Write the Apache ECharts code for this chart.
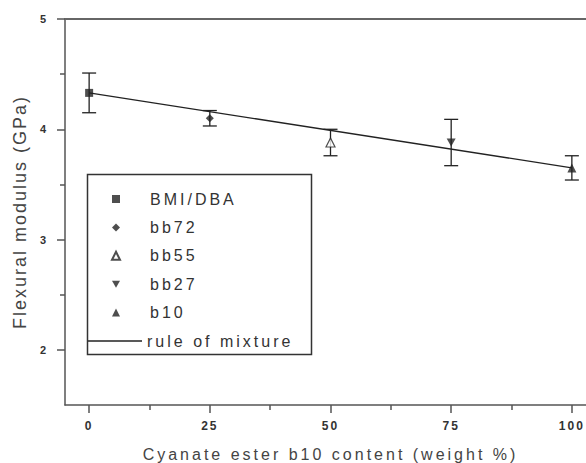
<!DOCTYPE html>
<html>
<head>
<meta charset="utf-8">
<script src="https://cdn.jsdelivr.net/npm/echarts@6/dist/echarts.min.js"></script>
<style>
  html, body { margin: 0; padding: 0; background: #fff; }
  #chart { width: 586px; height: 463px; }
  /* widen the tracking of the chart texts, keyed on their font size */
  #chart text[style*="16px"] { letter-spacing: 3px; }
  #chart text[style*="18px"] { letter-spacing: 2px; }
  #chart text[style*="12px"] { letter-spacing: 2px; }
  #chart text[style*="11px"] { letter-spacing: 1px; }
</style>
</head>
<body>
<div id="chart"></div>
<script>
// Cyanate ester b10 content (weight %) of each blend
const contentPct = [0, 25, 50, 75, 100];
const sampleNames = ['BMI/DBA', 'bb72', 'bb55', 'bb27', 'b10'];
// Flexural modulus (GPa): mean and standard deviation
const modulusMean = [4.33, 4.10, 3.88, 3.88, 3.65];
const modulusErr = [0.18, 0.07, 0.12, 0.21, 0.11];
// rule of mixture between the two neat resins
const mixtureName = 'rule of mixture';
const mixtureX = [0, 100];
const mixtureY = [4.33, 3.65];
// axis ticks
const xMajorTicks = [0, 25, 50, 75, 100];
const xMinorTicks = [12.5, 37.5, 62.5, 87.5];
const yMajorTicks = [2, 3, 4, 5];
const yMinorTicks = [2.5, 3.5, 4.5];

const INK = '#222';
const AXIS = '#555';
const FONT = '"Liberation Sans", Arial, sans-serif';
const DOWN_TRIANGLE = 'path://M0,0 L20,0 L10,17.3 Z';

const markerStyles = [
  { symbol: 'rect', symbolSize: 8, itemStyle: { color: INK } },
  { symbol: 'diamond', symbolSize: 8, itemStyle: { color: INK } },
  { symbol: 'triangle', symbolSize: 9, itemStyle: { color: '#fff', borderColor: INK, borderWidth: 1.2 } },
  { symbol: DOWN_TRIANGLE, symbolSize: [9, 8], itemStyle: { color: INK } },
  { symbol: 'triangle', symbolSize: 9, itemStyle: { color: INK } }
];

const errorData = contentPct.map((x, i) => [x, modulusMean[i] - modulusErr[i], modulusMean[i] + modulusErr[i]]);

const scatterSeries = sampleNames.map((name, i) => ({
  name: name,
  type: 'scatter',
  xAxisIndex: 0,
  yAxisIndex: 0,
  symbol: markerStyles[i].symbol,
  symbolSize: markerStyles[i].symbolSize,
  itemStyle: markerStyles[i].itemStyle,
  z: 5,
  data: [[contentPct[i], modulusMean[i]]]
}));

const chart = echarts.init(document.getElementById('chart'), null, { renderer: 'svg' });

const tickLabelStyle = { color: '#333', fontFamily: FONT, fontWeight: 'bold' };
const legendText = { fontSize: 16, lineHeight: 16, color: '#333', fontFamily: FONT };

chart.setOption({
  animation: false,
  backgroundColor: '#fff',
  grid: { left: 65, top: 19, width: 531, height: 386, outerBoundsMode: 'none', containLabel: false },
  xAxis: [
    {
      type: 'value', min: -5, max: 105, position: 'bottom',
      axisLine: { show: true, onZero: false, lineStyle: { color: AXIS, width: 1.5 } },
      axisTick: { show: true, customValues: xMajorTicks, length: 8, lineStyle: { color: AXIS, width: 1.5 } },
      axisLabel: Object.assign({ customValues: xMajorTicks, margin: 15, fontSize: 12 }, tickLabelStyle),
      splitLine: { show: false },
      name: 'Cyanate ester b10 content (weight %)',
      nameLocation: 'middle', nameGap: 41,
      nameTextStyle: { fontSize: 16, color: '#444', fontFamily: FONT }
    },
    {
      type: 'value', min: -5, max: 105, position: 'bottom',
      axisLine: { show: false, onZero: false },
      axisTick: { show: true, customValues: xMinorTicks, length: 5, lineStyle: { color: AXIS, width: 1.5 } },
      axisLabel: { show: false, customValues: xMinorTicks },
      splitLine: { show: false }
    },
    {
      type: 'value', min: -5, max: 105, position: 'top',
      axisLine: { show: true, onZero: false, lineStyle: { color: '#666', width: 2 } },
      axisTick: { show: false }, axisLabel: { show: false }, splitLine: { show: false }
    }
  ],
  yAxis: [
    {
      type: 'value', min: 1.5, max: 5, position: 'left',
      axisLine: { show: true, onZero: false, lineStyle: { color: AXIS, width: 1.5 } },
      axisTick: { show: true, customValues: yMajorTicks, length: 8, lineStyle: { color: AXIS, width: 1.5 } },
      axisLabel: Object.assign({ customValues: yMajorTicks, margin: 18, fontSize: 11 }, tickLabelStyle),
      splitLine: { show: false },
      name: 'Flexural modulus (GPa)',
      nameLocation: 'middle', nameGap: 36, nameRotate: 90,
      nameTextStyle: { fontSize: 18, color: '#444', fontFamily: FONT }
    },
    {
      type: 'value', min: 1.5, max: 5, position: 'left',
      axisLine: { show: false, onZero: false },
      axisTick: { show: true, customValues: yMinorTicks, length: 5, lineStyle: { color: AXIS, width: 1.5 } },
      axisLabel: { show: false, customValues: yMinorTicks },
      splitLine: { show: false }
    }
  ],
  legend: [
    {
      // sample markers
      orient: 'vertical',
      left: 111, top: 191,
      padding: 0,
      itemGap: 12.4,
      itemWidth: 8,
      itemHeight: 8,
      selectedMode: false,
      textStyle: Object.assign({ padding: [0, 0, 0, 25] }, legendText),
      data: sampleNames
    },
    {
      // rule of mixture line
      orient: 'vertical',
      left: 87, top: 333,
      padding: 0,
      itemWidth: 55,
      itemHeight: 1.4,
      selectedMode: false,
      textStyle: legendText,
      data: [{ name: mixtureName, icon: 'rect', itemStyle: { color: INK } }]
    }
  ],
  graphic: [
    {
      // frame round the legend
      type: 'rect',
      left: 85, top: 172,
      shape: { width: 224, height: 180 },
      style: { fill: null, stroke: '#333', lineWidth: 1.5 },
      z: 10
    }
  ],
  series: [
    {
      name: mixtureName,
      type: 'line',
      xAxisIndex: 0, yAxisIndex: 0,
      symbol: 'none',
      lineStyle: { color: INK, width: 1.3 },
      itemStyle: { color: INK },
      z: 3,
      data: mixtureX.map((x, i) => [x, mixtureY[i]])
    },
    {
      name: 'error',
      type: 'custom',
      xAxisIndex: 0, yAxisIndex: 0,
      z: 4,
      renderItem: function (params, api) {
        const x = api.value(0);
        const lo = api.coord([x, api.value(1)]);
        const hi = api.coord([x, api.value(2)]);
        const half = 7;
        const style = { stroke: INK, lineWidth: 1.3, fill: null };
        return {
          type: 'group',
          children: [
            { type: 'line', shape: { x1: lo[0], y1: lo[1], x2: hi[0], y2: hi[1] }, style: style },
            { type: 'line', shape: { x1: lo[0] - half, y1: lo[1], x2: lo[0] + half, y2: lo[1] }, style: style },
            { type: 'line', shape: { x1: hi[0] - half, y1: hi[1], x2: hi[0] + half, y2: hi[1] }, style: style }
          ]
        };
      },
      encode: { x: 0, y: [1, 2] },
      data: errorData
    }
  ].concat(scatterSeries)
});
</script>
</body>
</html>
